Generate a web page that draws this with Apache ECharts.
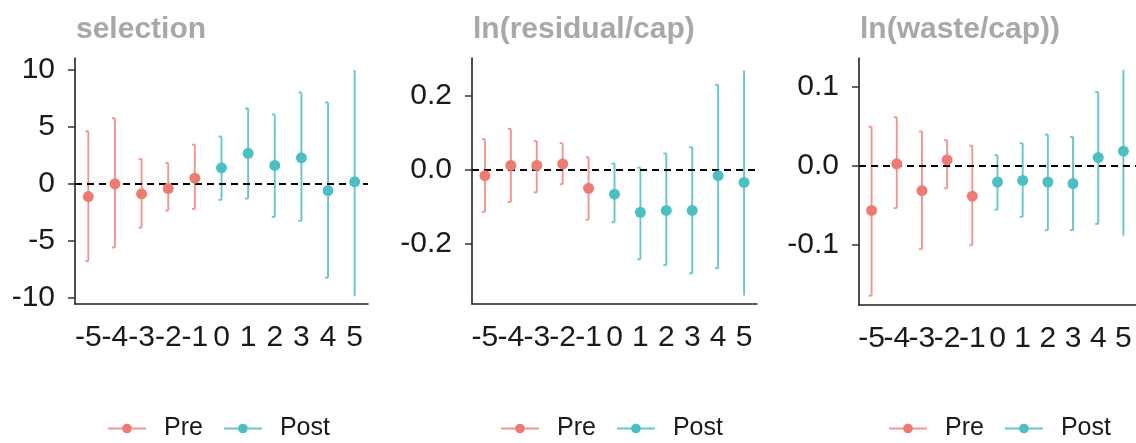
<!DOCTYPE html>
<html>
<head>
<meta charset="utf-8">
<script src="https://cdn.jsdelivr.net/npm/echarts@6/dist/echarts.min.js"></script>
<style>
  html, body { margin: 0; padding: 0; background: #fff; }
  #main { width: 1136px; height: 443px; }
</style>
</head>
<body>
<div id="main"></div>
<script>
// event time, pre = -5..-1, post = 0..5
var periods = [-5, -4, -3, -2, -1, 0, 1, 2, 3, 4, 5];
var titles = ['selection', 'ln(residual/cap)', 'ln(waste/cap))'];

// selection
var selEst = [-1.12, 0, -0.88, -0.41, 0.5, 1.41, 2.68, 1.62, 2.29, -0.59, 0.18];
var selLo  = [-6.79, -5.59, -3.85, -2.35, -2.21, -1.41, -1.29, -2.91, -3.24, -8.24, -9.88];
var selHi  = [4.62, 5.76, 2.18, 1.82, 3.44, 4.15, 6.62, 6.09, 8.03, 7.15, 10.0];

// ln(residual/cap)
var resEst = [-0.016, 0.012, 0.012, 0.016, -0.050, -0.066, -0.115, -0.110, -0.110, -0.016, -0.034];
var resLo  = [-0.114, -0.087, -0.061, -0.039, -0.135, -0.142, -0.242, -0.258, -0.280, -0.266, -0.340];
var resHi  = [0.083, 0.111, 0.078, 0.072, 0.034, 0.017, 0.006, 0.044, 0.061, 0.230, 0.269];

// ln(waste/cap)
var wasEst = [-0.057, 0.002, -0.032, 0.007, -0.039, -0.021, -0.019, -0.021, -0.023, 0.010, 0.018];
var wasLo  = [-0.165, -0.054, -0.106, -0.029, -0.101, -0.056, -0.065, -0.082, -0.082, -0.074, -0.089];
var wasHi  = [0.049, 0.061, 0.043, 0.032, 0.025, 0.013, 0.028, 0.039, 0.036, 0.093, 0.121];

var yTicks = [[-10, -5, 0, 5, 10], [-0.2, 0, 0.2], [-0.1, 0, 0.1]];

var myChart = echarts.init(document.getElementById('main'));

var preColor = '#EE7A71', postColor = '#4CBFC4';
var preLine = '#F3958E', postLine = '#67C6CA';
var inkColor = '#1a1a1a';
var fontName = '"Liberation Sans", Arial, sans-serif';

var panels = [
  { est: selEst, lo: selLo, hi: selHi, min: -10.55, max: 11.05, digits: 0,
    grid: { left: 75, top: 58, width: 293, height: 246 }, legendLeft: 107 },
  { est: resEst, lo: resLo, hi: resHi, min: -0.363, max: 0.3025, digits: 1,
    grid: { left: 472, top: 58, width: 285, height: 246 }, legendLeft: 500 },
  { est: wasEst, lo: wasLo, hi: wasHi, min: -0.1767, max: 0.136, digits: 1,
    grid: { left: 859, top: 58, width: 285, height: 247 }, legendLeft: 888 }
];

var catLabels = periods.map(String);
var lastIndex = periods.length - 1;

function makeErrRender(color) {
  return function (params, api) {
    var x = api.value(0);
    var top = api.coord([x, api.value(2)]);
    var bot = api.coord([x, api.value(1)]);
    var st = { stroke: color, lineWidth: 1.9 };
    var children = [{ type: 'line', shape: { x1: top[0], y1: top[1], x2: bot[0], y2: bot[1] }, style: st }];
    if (x !== lastIndex) {
      children.push({ type: 'line', shape: { x1: top[0] - 3, y1: top[1], x2: top[0], y2: top[1] }, style: st });
      children.push({ type: 'line', shape: { x1: bot[0] - 3, y1: bot[1], x2: bot[0], y2: bot[1] }, style: st });
    }
    return { type: 'group', children: children };
  };
}

var grids = [], xAxes = [], yAxes = [], series = [], titleList = [], legends = [];

panels.forEach(function (p, i) {
  grids.push(p.grid);
  titleList.push({
    text: titles[i], left: p.grid.left + 1, top: 15, padding: 0,
    textStyle: { fontFamily: fontName, fontSize: 30, fontWeight: 'bold', color: '#A8A8A8' }
  });
  xAxes.push({
    type: 'category', gridIndex: i, data: catLabels, boundaryGap: true,
    splitLine: { show: false },
    axisLine: { onZero: false, lineStyle: { color: '#222', width: 1.6 } },
    axisTick: { alignWithLabel: true, interval: 0, length: 7, lineStyle: { color: '#333', width: 1.5 } },
    axisLabel: { interval: 0, margin: 19, fontSize: 30, fontFamily: fontName, color: inkColor }
  });
  yAxes.push({
    type: 'value', gridIndex: i, min: p.min, max: p.max,
    splitLine: { show: false },
    axisLine: { show: true, onZero: false, lineStyle: { color: '#222', width: 1.6 } },
    axisTick: { show: true, length: 7, lineStyle: { color: '#333', width: 1.5 }, customValues: yTicks[i] },
    axisLabel: {
      customValues: yTicks[i], margin: 20, fontSize: 30, fontFamily: fontName, color: inkColor,
      formatter: function (v) { return Number(v).toFixed(p.digits); }
    }
  });

  var groups = [
    { name: 'Pre', color: preColor, line: preLine, test: function (t) { return t < 0; } },
    { name: 'Post', color: postColor, line: postLine, test: function (t) { return t >= 0; } }
  ];
  groups.forEach(function (g, gi) {
    var errData = [], ptData = [];
    periods.forEach(function (t, k) {
      if (!g.test(t)) return;
      errData.push([k, p.lo[k], p.hi[k]]);
      ptData.push([k, p.est[k]]);
    });
    var pts = {
      type: 'line', name: g.name, xAxisIndex: i, yAxisIndex: i, z: 4,
      data: ptData, symbol: 'circle', symbolSize: 11, showSymbol: true,
      itemStyle: { color: g.color },
      lineStyle: { color: g.line, width: 0, opacity: 0 }
    };
    if (gi === 0) {
      pts.markLine = {
        silent: true, symbol: 'none', label: { show: false },
        lineStyle: { color: '#000', width: 1.8, type: [7, 5] },
        data: [{ yAxis: 0 }], z: 3
      };
    }
    series.push(pts);
    series.push({
      type: 'custom', name: g.name, xAxisIndex: i, yAxisIndex: i, z: 2,
      renderItem: makeErrRender(g.line), data: errData, silent: true,
      encode: { x: 0, y: [1, 2] },
      itemStyle: { color: g.color }
    });
  });

  legends.push({
    left: p.legendLeft, top: 416, orient: 'horizontal', padding: 0,
    data: ['Pre', 'Post'],
    itemWidth: 38, itemHeight: 12, itemGap: 20,
    lineStyle: { width: 2, opacity: 1 },
    selectedMode: false,
    textStyle: { fontFamily: fontName, fontSize: 25, color: inkColor, padding: [0, 0, 0, 13] }
  });
});

var option = {
  animation: false,
  backgroundColor: '#fff',
  title: titleList,
  legend: legends,
  grid: grids,
  xAxis: xAxes,
  yAxis: yAxes,
  series: series
};
myChart.setOption(option);
</script>
</body>
</html>
